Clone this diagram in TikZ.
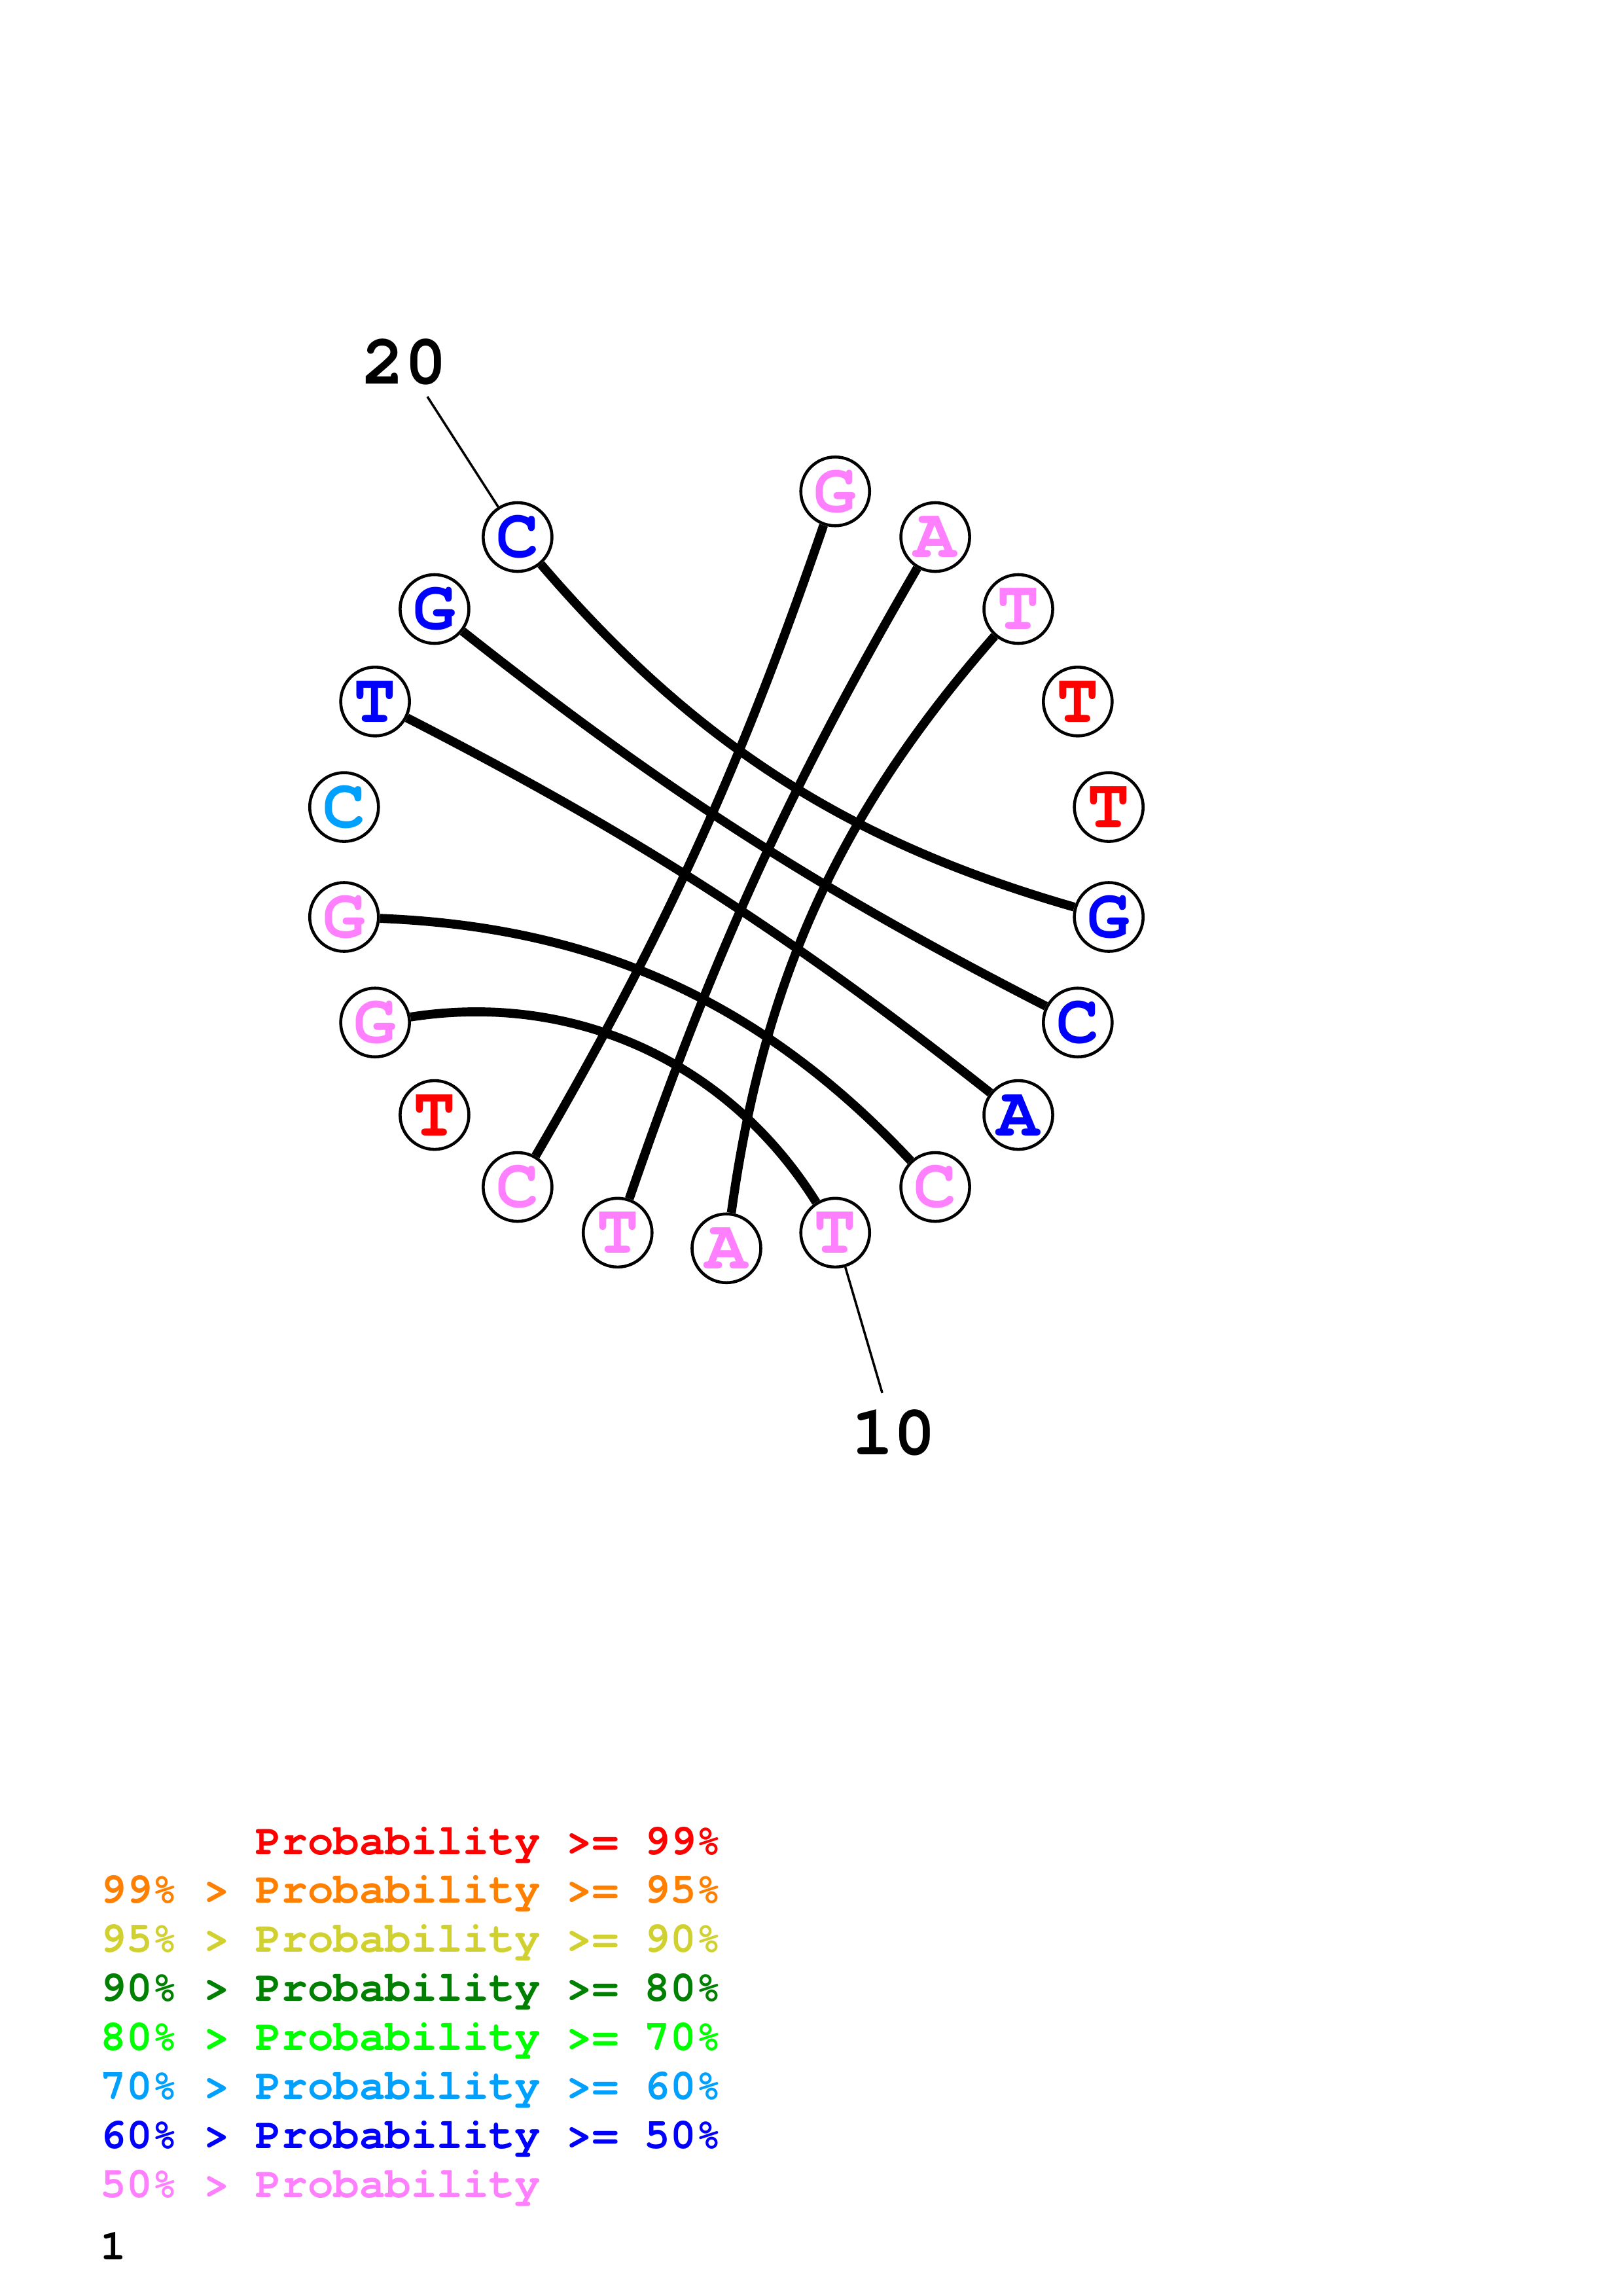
\documentclass[tikz,border=0pt]{standalone}
\usepackage{fontspec}
\setmonofont{TeX Gyre Cursor}
\usepackage{tikz}

\definecolor{prob99}{RGB}{255,0,0}
\definecolor{prob95}{RGB}{255,128,0}
\definecolor{prob90}{RGB}{208,208,48}
\definecolor{prob80}{RGB}{0,128,0}
\definecolor{prob70}{RGB}{0,255,0}
\definecolor{prob60}{RGB}{0,160,255}
\definecolor{prob50}{RGB}{0,0,255}
\definecolor{problow}{RGB}{255,128,255}

\tikzset{
  nuc/.style={circle, draw, line width=1.1pt, minimum size=0.89cm, inner sep=0pt,
              font=\ttfamily\bfseries\fontsize{26}{26}\selectfont},
  pair/.style={line width=3.3pt, looseness=0.95},
  tick/.style={line width=0.85pt},
  index/.style={inner sep=0pt, font=\ttfamily\bfseries\fontsize{26}{26}\selectfont},
  legend/.style={anchor=base west, inner sep=0pt,
                 font=\ttfamily\bfseries\fontsize{15.9}{15.9}\selectfont}
}

\begin{document}
\begin{tikzpicture}
  \useasboundingbox (-9.403,-18.560) rectangle (11.597,11.157);

  \node (n1)  at (73.64:5)   [nuc, text=problow] {G};
  \node (n2)  at (57.27:5)   [nuc, text=problow] {A};
  \node (n3)  at (40.91:5)   [nuc, text=problow] {T};
  \node (n4)  at (24.55:5)   [nuc, text=prob99]  {T};
  \node (n5)  at (8.18:5)    [nuc, text=prob99]  {T};
  \node (n6)  at (-8.18:5)   [nuc, text=prob50]  {G};
  \node (n7)  at (-24.55:5)  [nuc, text=prob50]  {C};
  \node (n8)  at (-40.91:5)  [nuc, text=prob50]  {A};
  \node (n9)  at (-57.27:5)  [nuc, text=problow] {C};
  \node (n10) at (-73.64:5)  [nuc, text=problow] {T};
  \node (n11) at (-90:5)     [nuc, text=problow] {A};
  \node (n12) at (-106.36:5) [nuc, text=problow] {T};
  \node (n13) at (-122.73:5) [nuc, text=problow] {C};
  \node (n14) at (-139.09:5) [nuc, text=prob99]  {T};
  \node (n15) at (-155.45:5) [nuc, text=problow] {G};
  \node (n16) at (-171.82:5) [nuc, text=problow] {G};
  \node (n17) at (171.82:5)  [nuc, text=prob60]  {C};
  \node (n18) at (155.45:5)  [nuc, text=prob50]  {T};
  \node (n19) at (139.09:5)  [nuc, text=prob50]  {G};
  \node (n20) at (122.73:5)  [nuc, text=prob50]  {C};

  \draw[pair] (n20) to[bend right=16.7] (n6);
  \draw[pair] (n19) to[bend right=5.6]  (n7);
  \draw[pair] (n8)  to[bend right=5.6]  (n18);
  \draw[pair] (n9)  to[bend right=22.3] (n16);
  \draw[pair] (n10) to[bend right=33.4] (n15);
  \draw[pair] (n13) to[bend right=5.6]  (n1);
  \draw[pair] (n2)  to[bend right=5.6]  (n12);
  \draw[pair] (n3)  to[bend right=16.7] (n11);

  \coordinate (t10) at (-73.64:7.16);
  \coordinate (t20) at (122.73:7.16);
  \node (i10) at (-73.64:7.70) [index] {10};
  \node (i20) at (122.73:7.70) [index] {20};
  \draw[tick] (n10) -- (t10);
  \draw[tick] (n20) -- (t20);

  \node (leg1) at (-8.11,-12.842) [legend, text=prob99]  {\phantom{99\% > }Probability >= 99\%};
  \node (leg2) at (-8.11,-13.477) [legend, text=prob95]  {99\% > Probability >= 95\%};
  \node (leg3) at (-8.11,-14.112) [legend, text=prob90]  {95\% > Probability >= 90\%};
  \node (leg4) at (-8.11,-14.747) [legend, text=prob80]  {90\% > Probability >= 80\%};
  \node (leg5) at (-8.11,-15.382) [legend, text=prob70]  {80\% > Probability >= 70\%};
  \node (leg6) at (-8.11,-16.017) [legend, text=prob60]  {70\% > Probability >= 60\%};
  \node (leg7) at (-8.11,-16.652) [legend, text=prob50]  {60\% > Probability >= 50\%};
  \node (leg8) at (-8.11,-17.287) [legend, text=problow] {50\% > Probability};
  \node (page) at (-8.11,-18.092) [legend] {1};
\end{tikzpicture}
\end{document}
